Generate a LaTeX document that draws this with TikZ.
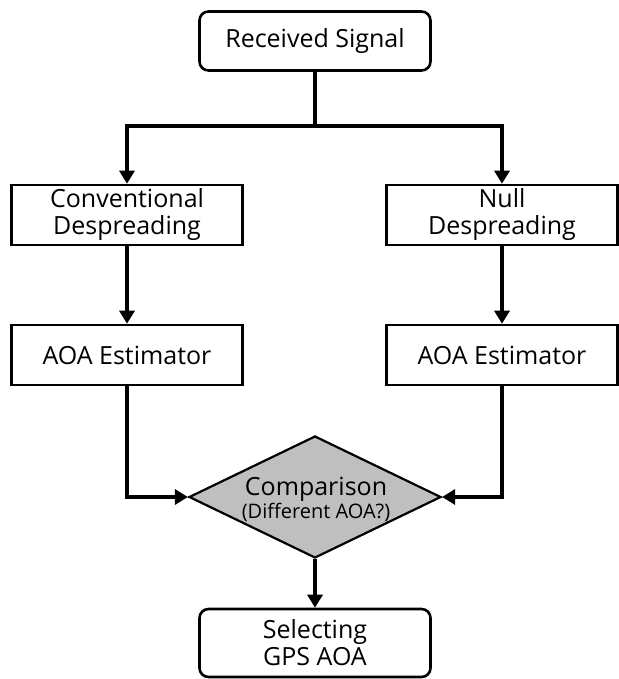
\documentclass[tikz,border=0pt]{standalone}
\usepackage{fontspec}
\setmainfont{Open Sans}
\usetikzlibrary{shapes.geometric,arrows.meta}
\begin{document}
\begin{tikzpicture}[x=1pt,y=-1pt,
  box/.style={draw=black,line width=2.6pt,fill=white,minimum width=231pt,minimum height=59pt,align=center,inner sep=0pt,font=\fontsize{25}{27}\selectfont},
  rbox/.style={box,rounded corners=9pt},
  conn/.style={line width=3.8pt},
  arr/.style={conn,-{Triangle[width=15pt,length=13pt]}}]
\useasboundingbox (0,0) rectangle (618,679);
\node[rbox] (rs) at (315,41) {Received Signal};
\node[box,minimum height=60pt] (cd) at (127,215) {Conventional\\Despreading};
\node[box,minimum height=60pt] (nd) at (502,215) {Null\\Despreading};
\node[box,minimum height=60pt] (ae1) at (127,355) {AOA Estimator};
\node[box,minimum height=60pt] (ae2) at (502,355) {AOA Estimator};
\node[diamond,draw=black,line width=2.2pt,fill=black!25,minimum width=252pt,minimum height=122pt,inner sep=0pt,align=center] (cmp) at (315,497) {};
\node[inner sep=0pt,anchor=base,font=\fontsize{25}{27}\selectfont] (cmpa) at (316,495) {Comparison};
\node[inner sep=0pt,anchor=base,font=\fontsize{20}{22}\selectfont] (cmpb) at (316,518) {(Different AOA?)};
\node[rbox,minimum height=68pt] (sel) at (315,643) {Selecting\\GPS AOA};
\coordinate (j) at (315,126);
\draw[conn] (rs.south) -- (j);
\draw[arr] (j) -| (cd.north);
\draw[arr] (j) -| (nd.north);
\draw[arr] (cd.south) -- (ae1.north);
\draw[arr] (nd.south) -- (ae2.north);
\draw[arr] (ae1.south) |- (cmp.west);
\draw[arr] (ae2.south) |- (cmp.east);
\draw[arr] (cmp.south) -- (sel.north);
\end{tikzpicture}
\end{document}
